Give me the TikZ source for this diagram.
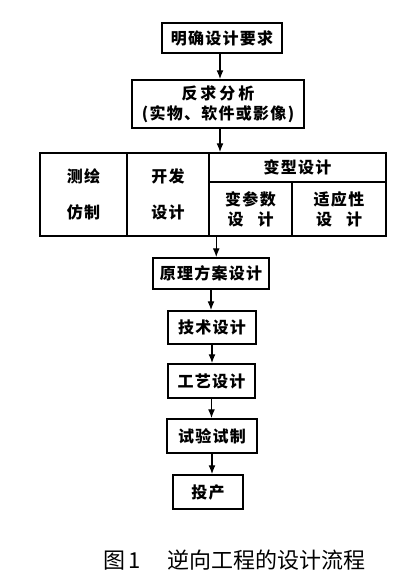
\documentclass[tikz,border=0pt]{standalone}
\usepackage{fontspec}
\newfontfamily\cjk[LetterSpace=8]{Noto Sans CJK SC}
\newfontfamily\cjkcap{Noto Sans CJK SC}
\usetikzlibrary{arrows.meta,calc}
\begin{document}
\begin{tikzpicture}[x=1pt,y=-1pt,
  box/.style={draw,line width=1.5pt,minimum width=#1,inner sep=0pt,font=\cjk\bfseries\fontsize{16}{18}\selectfont},
  arr/.style={line width=1.3pt,-{Latex[length=9pt,width=7pt]}}]
\useasboundingbox (0,0) rectangle (400,587);
\fill[white] (0,0) rectangle (400,587);
\node[box=120pt,minimum height=30pt] (b1) at (222,38) {明确设计要求};
\node[box=172pt,minimum height=48pt,align=center] (b2) at (218,104) {反\kern3pt求\kern3pt分\kern3pt析\\[2pt](实物、软件或影像)};
\node[box=87pt,minimum height=83pt,align=center,font=\cjk\bfseries\fontsize{16}{36}\selectfont] (c1) at (83.5,194.5) {测绘\\仿制};
\node[box=82pt,minimum height=83pt,align=center,font=\cjk\bfseries\fontsize{16}{36}\selectfont] (c2) at (168,194.5) {开发\\设计};
\node[box=177pt,minimum height=29pt] (c3) at (297.5,167.5) {变型设计};
\node[box=83pt,minimum height=54pt,align=center,font=\cjk\bfseries\fontsize{16}{20}\selectfont] (c4) at (250.5,209) {变参数\\设\hspace{14pt}计};
\node[box=94pt,minimum height=54pt,align=center,font=\cjk\bfseries\fontsize{16}{20}\selectfont] (c5) at (339,209) {适应性\\设\hspace{14pt}计};
\node[box=116pt,minimum height=31pt] (b3) at (211,273.5) {原理方案设计};
\node[box=88pt,minimum height=33pt] (b4) at (212,327.5) {技术设计};
\node[box=87pt,minimum height=34pt] (b5) at (211.5,381) {工艺设计};
\node[box=90pt,minimum height=34pt] (b6) at (212,436) {试验试制};
\node[box=70pt,minimum height=34pt] (b7) at (208,492) {投产};
\node[anchor=west,inner sep=0pt,font=\cjkcap\fontsize{22}{24}\selectfont] (cap) at (103,560) {图\,1\hspace{26pt}逆向工程的设计流程};
\coordinate (s1) at ($(b1.south)+(-2,0)$);
\coordinate (s2) at ($(b2.south)+(2,0)$);
\coordinate (s3) at ($(c4.south west)+(8,0)$);
\draw[arr] (s1) -- (s1 |- b2.north);
\draw[arr] (s2) -- (s2 |- c2.north);
\draw[arr] (s3) -- (s3 |- b3.north);
\draw[arr] (b3.south) -- (b3.south |- b4.north);
\draw[arr] (b4.south) -- (b4.south |- b5.north);
\draw[arr] (b5.south) -- (b5.south |- b6.north);
\draw[arr] (b6.south) -- (b6.south |- b7.north);
\end{tikzpicture}
\end{document}
